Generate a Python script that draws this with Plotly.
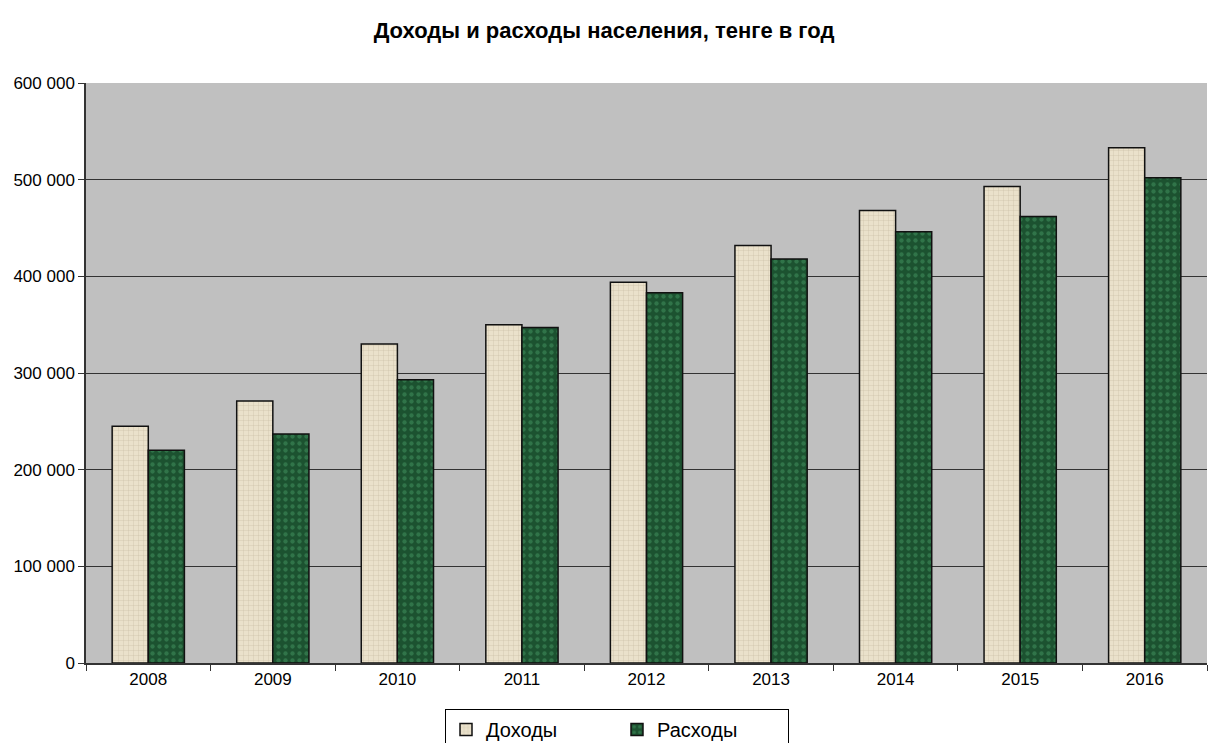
import plotly.graph_objects as go

years = ["2008", "2009", "2010", "2011", "2012", "2013", "2014", "2015", "2016"]
income = [245000, 271000, 330000, 350000, 394000, 432000, 468000, 493000, 533000]
expenses = [220000, 237000, 293000, 347000, 383000, 418000, 446000, 462000, 502000]
y_ticks = [0, 100000, 200000, 300000, 400000, 500000, 600000]

fig = go.Figure()
fig.add_trace(go.Bar(
    x=years, y=income, name="Доходы",
    marker=dict(color="#EAE1CB", line=dict(color="#111111", width=1.5),
                pattern=dict(shape="+", fgcolor="#BFB39A", size=5, solidity=0.15, fgopacity=0.7)),
))
fig.add_trace(go.Bar(
    x=years, y=expenses, name="Расходы",
    marker=dict(color="#1C5230", line=dict(color="#111111", width=1.5),
                pattern=dict(shape=".", fgcolor="#3E8A5A", size=7, solidity=0.3, fgopacity=0.6)),
))

fig.update_layout(
    width=1208, height=743,
    margin=dict(l=86, r=1, t=83, b=80),
    paper_bgcolor="white",
    plot_bgcolor="#C0C0C0",
    barmode="group",
    bargap=0.42,
    bargroupgap=0,
    separators=". ",
    font=dict(family="Liberation Sans, Arial", size=17, color="black"),
    title=dict(text="<b>Доходы и расходы населения, тенге в год</b>",
               x=0.5, xanchor="center", y=1 - 30 / 743, yanchor="middle",
               font=dict(size=22, family="Liberation Sans, Arial")),
    legend=dict(orientation="h", x=617 / 1208, xref="container", xanchor="center",
                y=(743 - 709) / 743, yref="container", yanchor="top",
                bordercolor="black", borderwidth=1, bgcolor="white",
                font=dict(size=20), entrywidth=126, itemwidth=30),
    showlegend=True,
)
fig.update_xaxes(
    type="category", showline=True, linecolor="#333333", linewidth=1.5,
    ticks="outside", tickson="boundaries", ticklen=6, tickcolor="#333333",
    showgrid=False, tickfont=dict(size=17),
)
fig.update_yaxes(
    range=[0, 600000], tickvals=y_ticks, tickformat=",d",
    showline=True, linecolor="#333333", linewidth=1.5,
    ticks="outside", ticklen=6, tickcolor="#333333",
    showgrid=True, gridcolor="#333333", gridwidth=1,
    zeroline=False, tickfont=dict(size=17),
)

fig.write_html("out.html")
